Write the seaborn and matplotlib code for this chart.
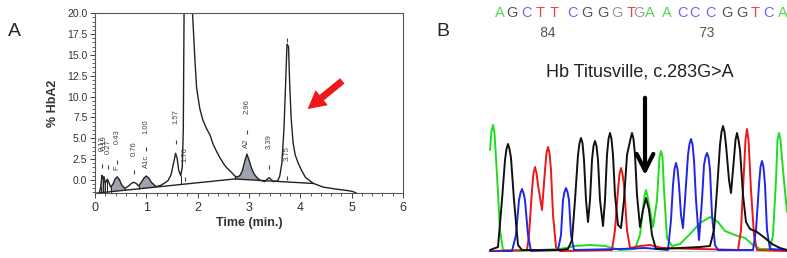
import numpy as np
import matplotlib
matplotlib.use("Agg")
import matplotlib.pyplot as plt
from matplotlib.ticker import MultipleLocator, FormatStrFormatter
import seaborn as sns

# ---- Panel A: HPLC chromatogram (time in min, % HbA2) ----
trace_t = [0.08, 0.11, 0.136, 0.155, 0.175, 0.20, 0.24, 0.27, 0.305, 0.35, 0.39, 0.43,
           0.47, 0.52, 0.58, 0.65, 0.70, 0.75, 0.80, 0.85, 0.90, 0.95, 1.00, 1.05,
           1.10, 1.19, 1.28, 1.36, 1.42, 1.48, 1.53, 1.57, 1.60, 1.63, 1.67, 1.70,
           1.72, 1.735, 1.81, 1.90, 1.95, 1.98, 2.04, 2.10, 2.17, 2.24, 2.30, 2.37,
           2.43, 2.50, 2.56, 2.63, 2.69, 2.72, 2.76, 2.82, 2.87, 2.92, 2.96, 3.00,
           3.05, 3.10, 3.16, 3.21, 3.30, 3.36, 3.39, 3.43, 3.48, 3.56, 3.60, 3.64,
           3.68, 3.71, 3.74, 3.77, 3.79, 3.82, 3.86, 3.90, 3.96, 4.02, 4.10, 4.25,
           4.44, 4.70, 4.95, 5.03, 5.12, 5.50]
trace_v = [-1.58, -0.9, 0.55, 0.2, 0.4, -0.4, 0.1, -0.3, -0.85, -0.5, 0.1, 0.38,
           0.1, -0.6, -1.0, -0.75, -0.45, -0.28, -0.4, -0.72, -0.3, 0.2, 0.48, 0.2,
           -0.3, -0.8, -0.65, -0.35, -0.1, 0.6, 2.0, 3.2, 2.6, 1.2, 0.5, 1.5,
           6.0, 20.0, 60.0, 20.0, 14.0, 11.0, 8.6, 7.2, 6.2, 5.4, 4.3, 3.4,
           2.7, 2.0, 1.5, 1.1, 0.7, 0.5, 0.35, 0.5, 1.1, 2.3, 3.1, 2.4,
           1.4, 0.7, 0.25, 0.0, -0.2, 0.1, 0.28, 0.05, -0.2, -0.1, 0.5, 2.0,
           6.0, 11.0, 16.3, 16.0, 12.0, 7.5, 4.4, 3.0, 2.0, 1.2, 0.3, -0.4,
           -0.85, -1.1, -1.3, -1.4, -1.68, -1.68]

base_t = [0.0, 2.72, 4.25]
base_v = [-1.6, 0.12, -0.42]

shaded = [(0.11, 0.20), (0.305, 0.58), (0.85, 1.19), (2.72, 3.21)]
drops = [0.11, 0.155, 0.20, 0.24, 0.305, 0.58, 0.85, 1.19, 1.67, 2.72, 3.21, 4.25]

peak_labels = ["0.17", "0.19", "0.27", "0.43", "F", "0.76", "1.00", "A1c",
               "1.57", "1.76", "2.96", "A2", "3.39", "3.75"]
label_t = [0.15, 0.175, 0.25, 0.435, 0.42, 0.76, 1.00, 1.00,
           1.57, 1.76, 2.96, 2.96, 3.39, 3.75]
label_v = [4.4, 4.5, 4.0, 5.2, 1.5, 3.8, 6.4, 2.2,
           7.6, 3.0, 8.8, 4.4, 4.6, 3.2]
mark_t = [0.14, 0.26, 0.43, 0.76, 1.00, 1.57, 1.76, 2.96, 3.39, 3.74, 3.74]
mark_v = [1.7, 1.6, 2.1, 1.0, 3.7, 4.6, 0.1, 5.7, 1.5, 0.2, 16.8]

# ---- Panel B: Sanger trace (scan position, signal) ----
a_scan = [2, 3.5, 5, 6.5, 9, 12, 15, 32, 72, 87, 102, 117, 132, 147, 152, 156.5, 158,
          159.5, 165, 169, 171.5, 173, 174.5, 176, 179, 184, 192, 202, 212, 222, 230,
          237, 247, 257, 265, 272, 282, 285, 288, 289.5, 291, 292.5, 295, 299]
a_sig = [102, 121, 127, 119, 77, 22, 2, 1, 3, 6, 7, 6, 2, 3, 17, 56, 62,
         56, 25, 52, 95, 101, 95, 62, 14, 6, 8, 18, 29, 35, 30,
         21, 17, 14, 7, 3, 3, 17, 72, 112, 119, 112, 82, 40]

g_scan = [2, 10, 14, 17, 18.5, 20, 21.5, 23, 26, 30, 34, 72, 80, 84, 87, 90, 91.5, 93,
          94.5, 96, 98, 100, 102, 104, 105.5, 107, 108.5, 110, 112, 115, 117, 119,
          120.5, 122, 123.5, 125, 127, 130, 133, 136, 139, 142.5, 144, 145.5, 147, 149,
          152, 155, 158, 161, 164, 168, 192, 212, 222, 226, 229, 232, 233.5, 235,
          236.5, 238, 241, 243, 245, 247.5, 249, 250.5, 252, 255, 258, 262, 269, 277,
          284, 292, 299]
g_sig = [2, 5, 52, 92, 103, 108, 103, 94, 52, 7, 2, 2, 3, 12, 52, 97, 109, 114,
         109, 92, 52, 30, 52, 92, 106, 111, 106, 92, 52, 26, 52, 97,
         113, 119, 113, 97, 57, 27, 24, 52, 97, 113, 119, 113, 97, 57,
         25, 42, 54, 42, 17, 3, 4, 5, 6, 22, 62, 107, 120, 126,
         120, 107, 72, 59, 82, 112, 119, 112, 102, 57, 30, 23, 20, 14,
         8, 4, 2]

c_scan = [2, 24, 28, 31, 32.5, 34, 35.5, 37, 40, 43, 70, 73, 75, 76.5, 78, 79.5, 81, 83,
          86, 132, 157, 180, 183, 185, 186.5, 188, 189.5, 191, 193, 195, 197, 200,
          201.5, 203, 204.5, 206, 208, 211, 214, 216, 217.5, 219, 220.5, 222, 224, 227,
          230, 265, 268, 271, 272.5, 274, 275.5, 277, 279, 282, 299]
c_sig = [0, 1, 17, 52, 59, 63, 59, 52, 17, 1, 2, 17, 52, 60, 64, 60, 52, 17,
         2, 3, 4, 2, 32, 67, 83, 89, 83, 67, 37, 24, 52, 97,
         108, 113, 108, 92, 52, 12, 52, 87, 95, 99, 95, 82, 37, 7,
         2, 2, 22, 67, 85, 91, 85, 67, 22, 3, 2]

t_scan = [2, 39, 41, 44, 45.5, 47, 48.5, 50, 54, 57, 58.5, 60, 61.5, 63, 65, 68, 72,
          124, 127, 130, 131.5, 133, 134.5, 136, 139, 142, 152, 162, 174, 212, 250,
          253, 255, 257.5, 259, 260.5, 263, 266, 269, 299]
t_sig = [1, 2, 17, 62, 79, 85, 79, 67, 42, 82, 99, 105, 99, 82, 37, 5, 1,
         2, 22, 62, 78, 84, 78, 67, 22, 4, 6, 7, 4, 3, 2,
         22, 62, 112, 123, 112, 62, 17, 2, 1]

bases = list("AGCTTCGGGTGAACCCGGTCA")
base_scan = [12, 24, 38, 52, 66, 84, 99, 115, 129, 143, 151, 162, 179, 194, 207,
             222, 239, 254, 267, 280, 295]
pos_labels = ["84", "73"]
pos_scan = [59, 219]

trace_colors = {"A": "#1fdc1f", "G": "#111111", "C": "#2424e8", "T": "#ee1515"}
letter_colors = {"A": "#4cd84c", "G": "#555555", "C": "#6a6aee", "T": "#ee4040"}

sns.set_style("white")
plt.rcParams["font.family"] = ["Liberation Sans", "DejaVu Sans"]

fig = plt.figure(figsize=(7.87, 2.58), dpi=100)

# ---------------- Panel A ----------------
axA = fig.add_axes([95 / 787, 64.7 / 258, 308 / 787, 180 / 258])
sns.lineplot(x=trace_t, y=trace_v, ax=axA, sort=False, estimator=None,
             color="#222222", lw=1.0)
sns.lineplot(x=base_t, y=base_v, ax=axA, sort=False,
             estimator=None, color="#222222", lw=1.0)

tt = np.array(trace_t)
vv = np.array(trace_v)
for t0, t1 in shaded:
    m = (tt >= t0) & (tt <= t1)
    b0 = np.interp(t0, base_t, base_v)
    b1 = np.interp(t1, base_t, base_v)
    axA.fill(np.r_[tt[m], t1, t0], np.r_[vv[m], b1, b0],
             color="#9ea3ad", lw=0, zorder=1)
for t in drops:
    axA.plot([t, t], [np.interp(t, base_t, base_v), np.interp(t, tt, vv)],
             color="#222222", lw=0.7)

for s, t, v in zip(peak_labels, label_t, label_v):
    axA.text(t, v, s, rotation=90, ha="center", va="center", fontsize=5.5,
             color="#444444")
axA.plot(mark_t, mark_v, ls="none", marker="|", ms=2.5, mew=0.8, color="#444444")

axA.annotate("", xy=(4.10, 8.3), xytext=(4.86, 12.1), xycoords="data",
             arrowprops=dict(arrowstyle="simple,head_length=1.3,head_width=1.4,tail_width=0.5",
                             mutation_scale=10, color="#ee1a1a", lw=0))

axA.set_xlim(0, 6)
axA.set_ylim(-1.6, 20)
axA.xaxis.set_major_locator(MultipleLocator(1))
axA.xaxis.set_minor_locator(MultipleLocator(0.2))
axA.yaxis.set_major_locator(MultipleLocator(2.5))
axA.yaxis.set_minor_locator(MultipleLocator(0.5))
axA.yaxis.set_major_formatter(FormatStrFormatter("%.1f"))
axA.tick_params(which="major", direction="out", length=3.5, width=0.7,
                color="#444444", labelcolor="#333333")
axA.tick_params(which="minor", direction="out", length=2, width=0.6, color="#444444")
axA.tick_params(axis="x", labelsize=9, pad=3)
axA.tick_params(axis="y", labelsize=7.5, pad=2)
axA.tick_params(bottom=True, left=True, which="both")
for sp in axA.spines.values():
    sp.set_color("#555555")
    sp.set_linewidth(0.8)
axA.set_xlabel("Time (min.)", fontsize=9, fontweight="bold", color="#333333", labelpad=2)
axA.set_ylabel("% HbA2", fontsize=9, fontweight="bold", color="#333333", labelpad=6)

fig.text(8 / 787, 1 - 31 / 258, "A", fontsize=14, va="center", ha="left")
fig.text(436 / 787, 1 - 31 / 258, "B", fontsize=14, va="center", ha="left")

# ---------------- Panel B ----------------
axB = fig.add_axes([488 / 787, 6 / 258, 299 / 787, 252 / 258])
axB.axhline(0, color="#c8c8c8", lw=2, zorder=0)
for base, xs, ys in [("A", a_scan, a_sig), ("T", t_scan, t_sig),
                     ("C", c_scan, c_sig), ("G", g_scan, g_sig)]:
    sns.lineplot(x=xs, y=ys, ax=axB, sort=False, estimator=None,
                 color=trace_colors[base], lw=1.4, solid_joinstyle="round")

for i, (b, x) in enumerate(zip(bases, base_scan)):
    col = letter_colors[b]
    if i in (8, 10):
        col = "#9a9a9a"
    axB.text(x, 239, b, color=col, fontsize=10.5, ha="center", va="center",
             family=["Liberation Sans", "DejaVu Sans"], clip_on=False)
for s, x in zip(pos_labels, pos_scan):
    axB.text(x, 219, s, color="#555555", fontsize=10, ha="center", va="center",
             family="Liberation Mono")

axB.text(152, 180, "Hb Titusville, c.283G>A", fontsize=13, ha="center",
         va="center", color="#222222")
axB.annotate("", xy=(157, 74), xytext=(157, 157), xycoords="data",
             arrowprops=dict(arrowstyle="->,head_length=1.0,head_width=0.5",
                             mutation_scale=12, color="black", lw=3))

axB.set_xlim(0, 299)
axB.set_ylim(0, 252)
axB.axis("off")

fig.savefig("out.png", dpi=100)
